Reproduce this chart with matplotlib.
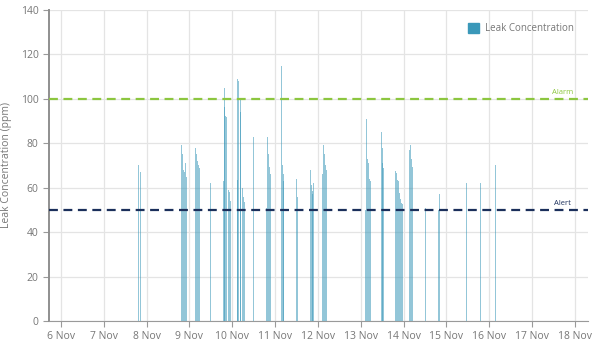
import pandas as pd
import matplotlib
matplotlib.use("Agg")
import matplotlib.pyplot as plt
import matplotlib.dates as mdates
from matplotlib.patches import Patch

plt.rcParams['font.family'] = ['Open Sans', 'DejaVu Sans']

# readings (timestamp, ppm)
times = [
    "2023-11-07 19:38", "2023-11-07 20:45",
    "2023-11-08 19:41", "2023-11-08 20:15", "2023-11-08 20:49", "2023-11-08 21:22", "2023-11-08 21:56", "2023-11-08 22:29",
    "2023-11-09 03:31", "2023-11-09 04:05", "2023-11-09 04:38", "2023-11-09 05:12", "2023-11-09 05:46",
    "2023-11-09 11:45",
    "2023-11-09 19:11", "2023-11-09 19:28", "2023-11-09 19:55", "2023-11-09 20:28", "2023-11-09 21:02", "2023-11-09 21:59", "2023-11-09 22:33", "2023-11-09 23:16",
    "2023-11-10 03:01", "2023-11-10 03:11", "2023-11-10 03:45", "2023-11-10 04:25", "2023-11-10 04:52", "2023-11-10 05:39", "2023-11-10 06:23", "2023-11-10 06:56",
    "2023-11-10 11:41",
    "2023-11-10 19:25", "2023-11-10 19:58", "2023-11-10 20:22", "2023-11-10 20:55", "2023-11-10 21:39",
    "2023-11-11 03:28", "2023-11-11 04:02", "2023-11-11 04:35", "2023-11-11 04:55",
    "2023-11-11 11:52", "2023-11-11 12:45",
    "2023-11-11 19:41", "2023-11-11 20:15", "2023-11-11 20:49", "2023-11-11 21:09", "2023-11-11 21:43",
    "2023-11-12 02:34", "2023-11-12 03:08", "2023-11-12 03:41", "2023-11-12 04:15", "2023-11-12 04:49",
    "2023-11-13 02:38", "2023-11-13 03:22", "2023-11-13 03:45", "2023-11-13 04:18", "2023-11-13 04:52", "2023-11-13 05:26",
    "2023-11-13 11:25", "2023-11-13 11:58", "2023-11-13 12:18", "2023-11-13 12:52",
    "2023-11-13 19:25", "2023-11-13 19:58", "2023-11-13 20:32", "2023-11-13 21:05", "2023-11-13 21:39", "2023-11-13 22:12", "2023-11-13 22:56", "2023-11-13 23:30",
    "2023-11-14 03:15", "2023-11-14 03:48", "2023-11-14 04:22", "2023-11-14 04:55",
    "2023-11-14 12:12",
    "2023-11-14 19:38", "2023-11-14 20:02",
    "2023-11-15 11:31", "2023-11-15 19:21", "2023-11-16 03:31",
]
ppm = [
    70, 67,
    79, 75, 68, 67, 71, 65,
    78, 75, 72, 70, 69,
    62,
    63, 105, 96.5, 92.3, 91.8, 59, 58, 54,
    63.5, 109, 108, 100, 94, 60, 56, 53.7,
    83,
    51, 83, 75, 69.5, 66,
    115, 70, 66, 63,
    64, 56,
    68, 61, 58.7, 57, 62,
    66, 79, 75, 70, 68,
    50, 91, 73, 71, 64, 63,
    85, 78, 71, 69,
    67.7, 66.5, 63.5, 62.8, 57.8, 54.8, 53, 52.5,
    77, 79, 73, 69.5,
    51,
    50, 57,
    62, 62, 70,
]
alarm = 100
alert = 50
tick_days = pd.date_range("2023-11-06", "2023-11-18", freq="D")

df = pd.DataFrame({"time": pd.to_datetime(times), "ppm": ppm})

fig = plt.figure(figsize=(6, 3.44), dpi=100)
ax = fig.add_axes([0.0817, 0.067, 0.898, 0.904])

bar_col = "#3a98b9"
ax.bar(df["time"], df["ppm"], width=0.024, color=bar_col, alpha=0.55, linewidth=0, zorder=3)

ax.axhline(alarm, color="#8cc63f", linestyle=(0, (4, 2.5)), linewidth=1.6, zorder=4)
ax.axhline(alert, color="#1b2f5b", linestyle=(0, (4, 2.5)), linewidth=1.6, zorder=4)

x0 = pd.Timestamp("2023-11-06") - pd.Timedelta(hours=6.7)
x1 = pd.Timestamp("2023-11-18") + pd.Timedelta(hours=7.3)
ax.set_xlim(x0, x1)
ax.set_ylim(0, 140)

ax.text(pd.Timestamp("2023-11-18") + pd.Timedelta(hours=-7), alarm + 1.2, "Alarm",
        color="#8cc63f", fontsize=5.5, ha="center", va="bottom")
ax.text(pd.Timestamp("2023-11-18") + pd.Timedelta(hours=-7), alert + 1.2, "Alert",
        color="#1b2f5b", fontsize=5.5, ha="center", va="bottom")

ax.set_xticks(tick_days)
ax.xaxis.set_major_formatter(mdates.DateFormatter("%-d Nov"))
ax.set_yticks(range(0, 141, 20))

ax.grid(True, color="#e4e4e4", linewidth=0.9, zorder=0)
ax.set_axisbelow(True)
for s in ["top", "right"]:
    ax.spines[s].set_visible(False)
ax.spines["left"].set_color("#8f8f8f")
ax.spines["bottom"].set_color("#9a9a9a")
ax.spines["left"].set_linewidth(1.4)
ax.tick_params(axis="both", colors="#9a9a9a", labelcolor="#777777", labelsize=7.5, length=4)

ax.set_ylabel("Leak Concentration (ppm)", color="#777777", fontsize=7.5, labelpad=6)

ax.legend(handles=[Patch(color=bar_col, label="Leak Concentration")],
          loc="upper right", frameon=False, fontsize=7, labelcolor="#777777",
          handlelength=1.1, handleheight=1.1, handletextpad=0.6,
          bbox_to_anchor=(0.99, 0.985))

fig.savefig("out.png", dpi=100)
